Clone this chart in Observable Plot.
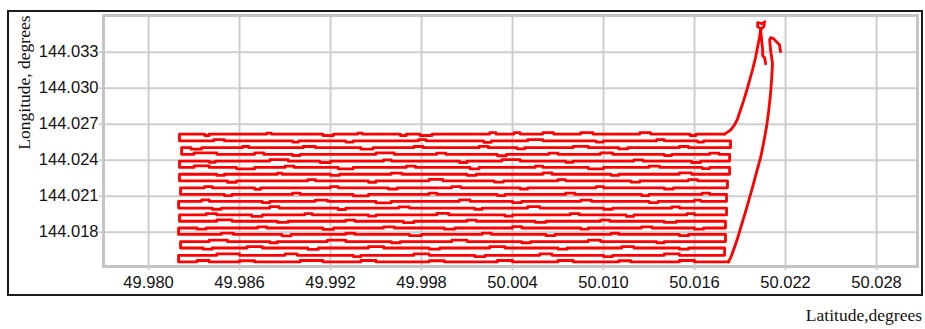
<!DOCTYPE html>
<html>
<head>
<meta charset="utf-8">
<script src="https://cdn.jsdelivr.net/npm/d3@7"></script>
<script src="https://cdn.jsdelivr.net/npm/@observablehq/plot@0.6"></script>
<style>
  body { margin: 0; background: #fff; }
  #wrap { position: relative; width: 925px; height: 329px; overflow: hidden; }
  #box { position: absolute; left: 7px; top: 10px; width: 916px; height: 286px; box-sizing: border-box; border: 2px solid #1a1a1a; pointer-events: none; }
  #xlabel { position: absolute; right: 3px; top: 306px; font: 17.5px "Liberation Serif", "Times New Roman", serif; color: #111; line-height: 18px; white-space: nowrap; }
</style>
</head>
<body>
<div id="wrap">
  <div id="chart"></div>
  <div id="box"></div>
  <div id="xlabel">Latitude,degrees</div>
</div>
<script>
// ---- tick values ----
const xTicks = [49.980, 49.986, 49.992, 49.998, 50.004, 50.010, 50.016, 50.022, 50.028];
const yTicks = [144.018, 144.021, 144.024, 144.027, 144.030, 144.033];

// ---- survey rows (longitude of each pass, top to bottom) ----
const rowLon = [144.02618, 144.02561, 144.02504, 144.02449, 144.02393, 144.02340, 144.02283,
  144.02228, 144.02170, 144.02115, 144.02057, 144.02001, 144.01944, 144.01891, 144.01835,
  144.01781, 144.01722, 144.01668, 144.01607, 144.01552];
// left U-turn latitude of each pair of rows
const leftLat = [49.98204, 49.98218, 49.98204, 49.98204, 49.98211, 49.98198, 49.98204, 49.98198, 49.98211, 49.98198];
// right U-turn latitude between pairs
const rightLat = [50.01837, 50.01831, 50.01831, 50.01817, 50.01811, 50.01811, 50.01804, 50.01804, 50.01798];
const row1End = 50.01798;
const row20End = 50.01824;
// small jitter steps on each row: [latFrom, latTo, lonOffset]
const rowBumps = [
  [[49.9837,49.9840,-0.00012],[49.9878,49.9881,0.00008],[49.9915,49.9922,-0.00012],[49.9938,49.9941,0.00008],[49.9966,49.9970,-0.00012],[49.9979,49.9987,-0.00012],[50.0025,50.0029,0.00012],[50.0041,50.0045,0.00012],[50.0060,50.0067,0.00012],[50.0085,50.0093,0.00012],[50.0124,50.0131,0.00012],[50.0157,50.0161,-0.00012]],
  [[49.9843,49.9850,0.00010],[49.9895,49.9899,-0.00010],[49.9930,49.9935,-0.00010],[49.9978,49.9983,0.00010],[50.0021,50.0026,-0.00012],[50.0050,50.0060,0.00010],[50.0095,50.0100,-0.00010],[50.0135,50.0140,0.00010],[50.0162,50.0166,-0.00010]],
  [[49.9828,49.9835,-0.00012],[49.9862,49.9866,0.00010],[49.9902,49.9910,0.00010],[49.9940,49.9948,-0.00012],[49.9975,49.9981,0.00010],[50.0018,50.0024,0.00012],[50.0043,50.0048,-0.00010],[50.0080,50.0090,0.00012],[50.0110,50.0116,-0.00010],[50.0150,50.0156,0.00010]],
  [[49.9830,49.9845,0.00012],[49.9870,49.9876,0.00012],[49.9895,49.9900,-0.00010],[49.9950,49.9962,0.00012],[49.9990,49.9996,0.00010],[50.0030,50.0036,-0.00012],[50.0064,50.0070,0.00010],[50.0098,50.0106,0.00012],[50.0140,50.0145,-0.00010],[50.0170,50.0176,0.00010]],
  [[49.9840,49.9844,-0.00010],[49.9880,49.9892,0.00012],[49.9913,49.9920,-0.00012],[49.9955,49.9960,0.00010],[50.0005,50.0010,-0.00012],[50.0033,50.0045,0.00012],[50.0075,50.0080,-0.00010],[50.0120,50.0126,0.00010],[50.0158,50.0164,-0.00012]],
  [[49.9830,49.9840,0.00012],[49.9858,49.9870,-0.00012],[49.9890,49.9896,0.00010],[49.9925,49.9935,-0.00012],[49.9970,49.9976,0.00010],[50.0012,50.0018,-0.00012],[50.0055,50.0060,0.00010],[50.0090,50.0100,-0.00012],[50.0130,50.0137,0.00010],[50.0165,50.0170,-0.00010]],
  [[49.9845,49.9850,-0.00010],[49.9885,49.9888,0.00010],[49.9920,49.9926,-0.00010],[49.9960,49.9967,0.00010],[50.0010,50.0016,-0.00010],[50.0060,50.0066,0.00012],[50.0105,50.0110,-0.00010],[50.0150,50.0158,0.00012]],
  [[49.9852,49.9858,-0.00012],[49.9905,49.9910,0.00010],[49.9945,49.9950,-0.00012],[49.9985,49.9994,0.00012],[50.0028,50.0034,-0.00010],[50.0070,50.0075,0.00010],[50.0118,50.0124,-0.00010],[50.0156,50.0162,0.00010]],
  [[49.9837,49.9842,0.00010],[49.9870,49.9874,-0.00012],[49.9920,49.9925,0.00010],[49.9958,49.9964,-0.00010],[50.0000,50.0006,0.00010],[50.0045,50.0050,-0.00010],[50.0095,50.0100,0.00010],[50.0140,50.0146,-0.00010]],
  [[49.9850,49.9855,-0.00010],[49.9895,49.9900,0.00010],[49.9935,49.9945,-0.00012],[49.9985,49.9990,0.00010],[50.0030,50.0035,-0.00010],[50.0075,50.0081,0.00010],[50.0125,50.0130,-0.00010],[50.0165,50.0170,0.00010]],
  [[49.9835,49.9840,0.00012],[49.9875,49.9880,-0.00010],[49.9910,49.9918,0.00010],[49.9950,49.9960,-0.00012],[50.0005,50.0012,0.00012],[50.0040,50.0046,-0.00010],[50.0085,50.0092,0.00010],[50.0130,50.0136,-0.00010],[50.0160,50.0164,0.00010]],
  [[49.9842,49.9848,-0.00010],[49.9880,49.9886,0.00012],[49.9925,49.9930,-0.00012],[49.9965,49.9972,0.00010],[50.0015,50.0020,-0.00010],[50.0050,50.0058,0.00012],[50.0100,50.0106,-0.00010],[50.0145,50.0150,0.00010]],
  [[49.9838,49.9845,0.00010],[49.9868,49.9875,-0.00012],[49.9903,49.9908,0.00010],[49.9945,49.9950,-0.00010],[49.9990,49.9998,0.00012],[50.0035,50.0040,-0.00010],[50.0078,50.0084,0.00010],[50.0115,50.0120,-0.00012],[50.0155,50.0160,0.00010]],
  [[49.9845,49.9855,0.00012],[49.9885,49.9892,-0.00010],[49.9930,49.9936,0.00010],[49.9968,49.9975,-0.00012],[50.0010,50.0016,0.00010],[50.0055,50.0062,-0.00010],[50.0098,50.0104,0.00010],[50.0140,50.0148,-0.00010]],
  [[49.9832,49.9838,-0.00010],[49.9872,49.9878,0.00010],[49.9915,49.9922,-0.00012],[49.9955,49.9962,0.00010],[49.9995,50.0002,-0.00010],[50.0040,50.0046,0.00012],[50.0085,50.0090,-0.00010],[50.0125,50.0132,0.00010],[50.0160,50.0166,-0.00010]],
  [[49.9848,49.9856,0.00012],[49.9888,49.9894,-0.00012],[49.9930,49.9936,0.00010],[49.9972,49.9980,-0.00010],[50.0020,50.0026,0.00012],[50.0062,50.0068,-0.00010],[50.0105,50.0110,0.00010],[50.0150,50.0156,-0.00010]],
  [[49.9840,49.9852,0.00012],[49.9880,49.9885,-0.00010],[49.9918,49.9930,0.00012],[49.9960,49.9966,-0.00010],[50.0000,50.0010,0.00012],[50.0046,50.0052,-0.00010],[50.0090,50.0098,0.00012],[50.0135,50.0140,-0.00010]],
  [[49.9836,49.9842,-0.00010],[49.9865,49.9875,0.00012],[49.9905,49.9912,-0.00012],[49.9945,49.9955,0.00012],[49.9985,49.9992,-0.00010],[50.0025,50.0035,0.00012],[50.0070,50.0076,-0.00010],[50.0112,50.0120,0.00012],[50.0150,50.0156,-0.00010]],
  [[49.9845,49.9860,0.00012],[49.9890,49.9898,0.00012],[49.9935,49.9940,-0.00010],[49.9975,49.9985,0.00012],[50.0015,50.0022,-0.00010],[50.0058,50.0066,0.00012],[50.0100,50.0106,-0.00010],[50.0140,50.0150,0.00012]],
  [[49.9832,49.9840,0.00012],[49.9860,49.9870,0.00010],[49.9900,49.9915,0.00012],[49.9940,49.9950,0.00012],[49.9985,49.9995,0.00010],[50.0030,50.0040,0.00012],[50.0070,50.0080,0.00012],[50.0110,50.0118,0.00010],[50.0150,50.0160,0.00012]]
];
// approach legs (lat, lon)
const legTopLat = [50.01798, 50.01837, 50.01863, 50.01883, 50.01903, 50.01923, 50.01943, 50.01962, 50.01982, 50.02002, 50.02016, 50.02029, 50.02036, 50.02016, 50.02016, 50.02049, 50.02062, 50.02056, 50.02036, 50.02042, 50.02049, 50.02049, 50.02062, 50.02069];
const legTopLon = [144.02618, 144.02651, 144.02693, 144.02743, 144.02818, 144.02894, 144.02977, 144.03061, 144.03153, 144.03254, 144.03346, 144.03429, 144.03496, 144.03513, 144.03546, 144.03538, 144.03555, 144.03513, 144.03488, 144.03404, 144.03320, 144.03270, 144.03254, 144.03203];
const legRightLat = [50.01824, 50.01844, 50.01863, 50.01883, 50.01903, 50.01929, 50.01956, 50.01982, 50.02009, 50.02036, 50.02055, 50.02075, 50.02088, 50.02101, 50.02108, 50.02114, 50.02101, 50.02095, 50.02101, 50.02121, 50.02140, 50.02160, 50.02167];
const legRightLon = [144.01552, 144.01605, 144.01672, 144.01747, 144.01831, 144.01940, 144.02057, 144.02174, 144.02300, 144.02425, 144.02542, 144.02680, 144.02802, 144.02953, 144.03069, 144.03203, 144.03320, 144.03404, 144.03421, 144.03413, 144.03387, 144.03362, 144.03304];

// ---- build survey path ----
const survey = [];
for (let i = 0; i < rowLon.length; i++) {
  const lon = rowLon[i];
  const leftward = i % 2 === 0;
  const start = i === 0 ? row1End : (leftward ? rightLat[i / 2 - 1] : leftLat[(i - 1) / 2]);
  const end = leftward ? leftLat[i / 2] : (i === rowLon.length - 1 ? row20End : rightLat[(i - 1) / 2]);
  survey.push({lat: start, lon});
  const bumps = rowBumps[i].slice().sort((a, b) => leftward ? b[0] - a[0] : a[0] - b[0]);
  for (const [a, b, d] of bumps) {
    if (leftward) { survey.push({lat: b, lon: lon + d}); survey.push({lat: a, lon}); }
    else { survey.push({lat: a, lon: lon + d}); survey.push({lat: b, lon}); }
  }
  survey.push({lat: end, lon});
}
const legTop = legTopLat.map((lat, i) => ({lat, lon: legTopLon[i]}));
const legRight = legRightLat.map((lat, i) => ({lat, lon: legRightLon[i]}));

const fmt = d3.format(".3f");
const red = "#ff0000";
const chart = Plot.plot({
  width: 925,
  height: 300,
  marginLeft: 103,
  marginRight: 8,
  marginTop: 15,
  marginBottom: 34,
  x: {domain: [49.97703, 50.0307]},
  y: {domain: [144.01514, 144.03606]},
  style: {fontFamily: "'Liberation Sans', Arial, sans-serif", fontSize: "16.5px", color: "#000", background: "transparent"},
  marks: [
    Plot.gridX(xTicks, {stroke: "#cdcdcd", strokeOpacity: 1, strokeWidth: 2}),
    Plot.gridY(yTicks, {stroke: "#cdcdcd", strokeOpacity: 1, strokeWidth: 2}),
    Plot.frame({stroke: "#c4c4c4", strokeWidth: 3}),
    Plot.axisX(xTicks, {tickSize: 4, tickPadding: 6, stroke: "#cdcdcd", strokeWidth: 2, tickFormat: fmt, label: null, fill: "#111"}),
    Plot.axisY(yTicks, {tickSize: 4, tickPadding: 1, stroke: "#cdcdcd", strokeWidth: 2, tickFormat: fmt, label: null, fill: "#111"}),
    Plot.line(survey, {x: "lat", y: "lon", curve: "step-after", stroke: red, strokeWidth: 2.8}),
    Plot.line(legTop, {x: "lat", y: "lon", stroke: red, strokeWidth: 2.8}),
    Plot.line(legRight, {x: "lat", y: "lon", stroke: red, strokeWidth: 2.8}),
    Plot.text(["Longitude, degrees"], {frameAnchor: "top-left", dx: -86, rotate: -90, textAnchor: "end",
      fontFamily: "'Liberation Serif', 'Times New Roman', serif", fontSize: 17.5, fill: "#111"})
  ]
});
document.getElementById("chart").appendChild(chart);
</script>
</body>
</html>
